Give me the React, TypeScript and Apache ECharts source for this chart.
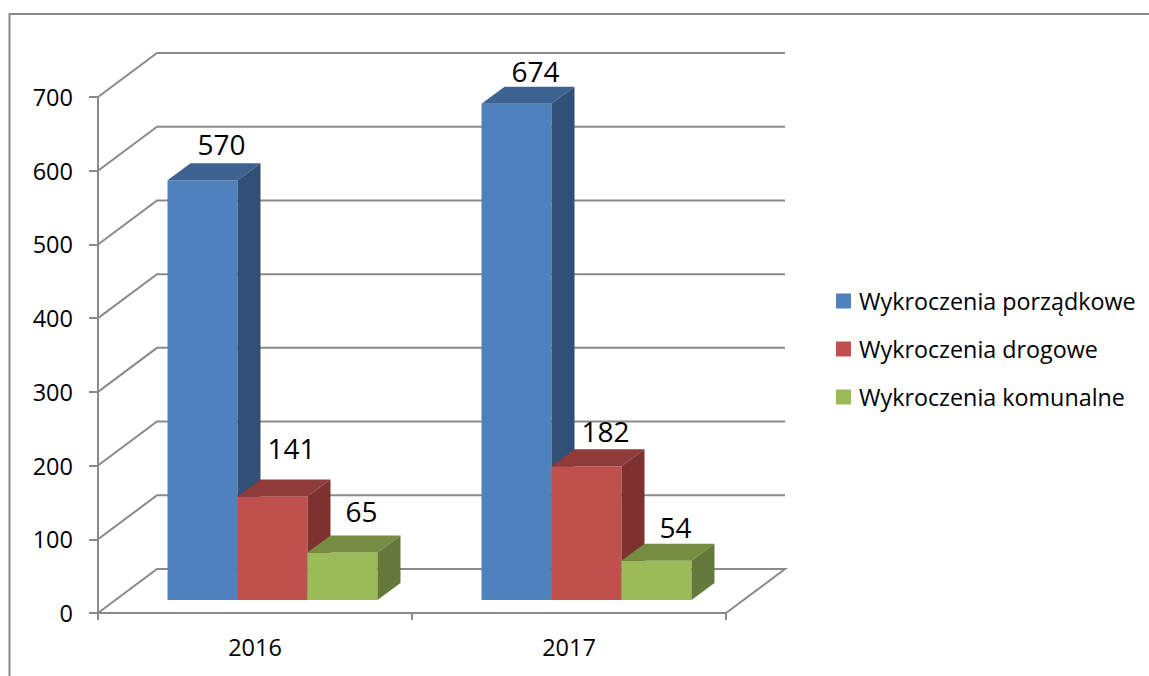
import React, { useEffect, useRef } from "react";
import * as echarts from "echarts";

const categories = ["2016", "2017"];
const yTicks = [0, 100, 200, 300, 400, 500, 600, 700];
const porzadkowe = [570, 674];
const drogowe = [141, 182];
const komunalne = [65, 54];

const seriesNames = ["Wykroczenia porządkowe", "Wykroczenia drogowe", "Wykroczenia komunalne"];
const FONT = "'Open Sans', sans-serif";
const GRID_COLOR = "#8a8a8a";

// Perspective of the drawing
const WALL_DX = 59;
const WALL_DY = -44;
const BAR_OFF_X = 17.5;
const BAR_TOP_OFF_Y = -12.5;
const BAR_BASE_OFF_Y = -13;
const BAR_DX = 23;
const BAR_DY = -17;
const BAR_BAND_SHARE = 70 / 314;

const palettes = [
  { front: "#4f81bd", top: "#3e6391", side: "#324f78" },
  { front: "#c0504d", top: "#8f3b39", side: "#7d3230" },
  { front: "#9bbb59", top: "#758c43", side: "#65793a" },
];
// label lift above the back edge of the bar's top, per series and category
const labelLift = [
  [19, 16],
  [32, 18],
  [25, 17],
];

function barSeries(name: string, values: number[], idx: number) {
  const pal = palettes[idx];
  return {
    type: "custom",
    name,
    z: 5,
    itemStyle: { color: pal.front },
    data: values.map((v, i) => [i, v]),
    renderItem: (_p: any, api: any) => {
      const cat = api.value(0);
      const val = api.value(1);
      const band = api.size([1, 0])[0];
      const w = band * BAR_BAND_SHARE;
      const [cx, yTop0] = api.coord([cat, val]);
      const [, yBase0] = api.coord([cat, 0]);
      const l = cx + BAR_OFF_X - 1.5 * w + idx * w;
      const r = l + w;
      const t = yTop0 + BAR_TOP_OFF_Y;
      const b = yBase0 + BAR_BASE_OFF_Y;
      const poly = (points: number[][], fill: string) => ({
        type: "polygon",
        shape: { points },
        style: { fill, stroke: null },
      });
      return {
        type: "group",
        children: [
          poly([[l, b], [r, b], [r, t], [l, t]], pal.front),
          poly([[l, t], [r, t], [r + BAR_DX, t + BAR_DY], [l + BAR_DX, t + BAR_DY]], pal.top),
          poly([[r, t], [r + BAR_DX, t + BAR_DY], [r + BAR_DX, b + BAR_DY], [r, b]], pal.side),
          {
            type: "text",
            z2: 10,
            style: {
              x: (l + r) / 2 + 19,
              y: t + BAR_DY - labelLift[idx][cat],
              text: String(val),
              fill: "#000000",
              font: `28px ${FONT}`,
              align: "center",
              verticalAlign: "middle",
            },
          },
        ],
      };
    },
  };
}

const wallSeries = {
  type: "custom",
  name: "wall",
  z: 1,
  silent: true,
  data: yTicks.map((v) => [0, v]),
  renderItem: (params: any, api: any) => {
    const cs = params.coordSys;
    const [, y] = api.coord([0, api.value(1)]);
    const x0 = cs.x;
    const x1 = cs.x + cs.width;
    const points = [
      [x0, y],
      [x0 + WALL_DX, y + WALL_DY],
      [x1 + WALL_DX, y + WALL_DY],
    ];
    if (api.value(1) === 0) points.push([x1, y]);
    return {
      type: "polyline",
      shape: { points },
      style: { stroke: GRID_COLOR, lineWidth: 2, fill: null },
    };
  },
};

export default function App() {
  const ref = useRef<HTMLDivElement>(null);
  useEffect(() => {
    document.body.style.margin = "0";
    document.body.style.overflow = "hidden";
    const chart = echarts.init(ref.current!, undefined, { renderer: "svg" });
    chart.setOption({
      animation: false,
      backgroundColor: "#ffffff",
      grid: { left: 98, top: 97, width: 628, height: 516, containLabel: false },
      graphic: [
        {
          type: "polyline",
          shape: { points: [[9.5, 676], [9.5, 14], [1149, 14]] },
          style: { stroke: GRID_COLOR, lineWidth: 2, fill: null },
        },
      ],
      legend: {
        orient: "vertical",
        left: 831,
        top: 282,
        data: seriesNames,
        icon: "rect",
        itemWidth: 15,
        itemHeight: 15,
        itemGap: 20,
        selectedMode: false,
        textStyle: { fontFamily: FONT, fontSize: 23.3, color: "#000000", padding: [0, 0, 0, 3], height: 28, lineHeight: 28 },
      },
      xAxis: {
        type: "category",
        data: categories,
        axisLine: { show: true, lineStyle: { color: GRID_COLOR, width: 2 } },
        axisTick: { show: true, length: 7, lineStyle: { color: GRID_COLOR, width: 2 } },
        axisLabel: { color: "#000000", fontFamily: FONT, fontSize: 23.5, margin: 22 },
        splitLine: { show: false },
      },
      yAxis: {
        type: "value",
        min: 0,
        max: 700,
        interval: 100,
        axisLine: { show: true, lineStyle: { color: GRID_COLOR, width: 2 } },
        axisTick: { show: true, length: 9, lineStyle: { color: GRID_COLOR, width: 2 } },
        axisLabel: { color: "#000000", fontFamily: FONT, fontSize: 23.5, margin: 25 },
        splitLine: { show: false },
      },
      series: [
        wallSeries,
        barSeries(seriesNames[0], porzadkowe, 0),
        barSeries(seriesNames[1], drogowe, 1),
        barSeries(seriesNames[2], komunalne, 2),
      ],
    });
    return () => chart.dispose();
  }, []);
  return <div ref={ref} style={{ width: 1149, height: 676 }} />;
}
